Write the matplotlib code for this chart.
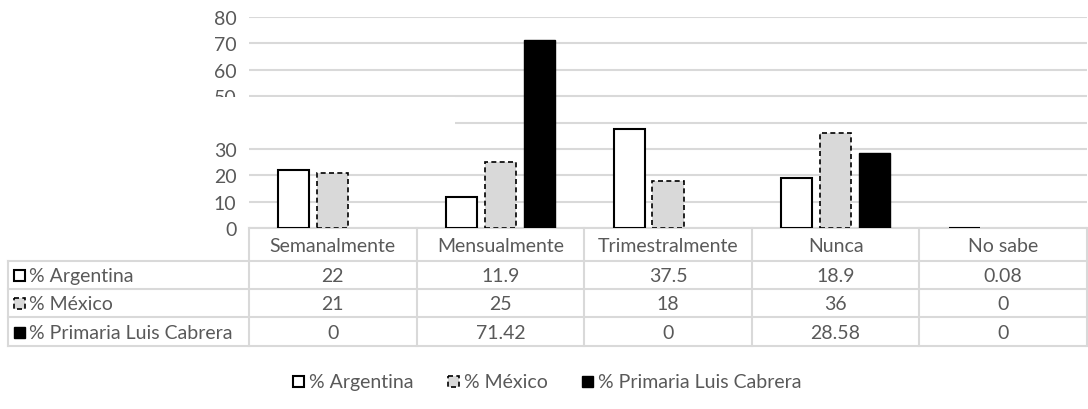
import numpy as np
import matplotlib.pyplot as plt
from matplotlib.patches import Rectangle

plt.rcParams['font.family'] = ['Lato', 'DejaVu Sans']

categorias = ['Semanalmente', 'Mensualmente', 'Trimestralmente', 'Nunca', 'No sabe']
series = ['% Argentina', '% México', '% Primaria Luis Cabrera']
argentina = [22, 11.9, 37.5, 18.9, 0.08]
mexico = [21, 25, 18, 36, 0]
cabrera = [0, 71.42, 0, 28.58, 0]
etiquetas = [['22', '11.9', '37.5', '18.9', '0.08'],
             ['21', '25', '18', '36', '0'],
             ['0', '71.42', '0', '28.58', '0']]

W, H = 1088, 410
gris = '#d9d9d9'
texto = '#595959'
fs = 14
estilos = [dict(facecolor='white', edgecolor='black', linewidth=1.5),
           dict(facecolor=gris, edgecolor='black', linewidth=1.2, linestyle=(0, (3, 2))),
           dict(facecolor='black', edgecolor='black', linewidth=1)]

fig = plt.figure(figsize=(W / 100, H / 100), dpi=100)

# capa para la tabla (debajo del grafico)
ov = fig.add_axes([0, 0, 1, 1])
ov.set_xlim(0, W)
ov.set_ylim(H, 0)
ov.axis('off')
ov.set_zorder(-1)

# zona del grafico (en pixeles)
x0, x1, y_top, y_bot = 249, 1087, 18, 229
ax = fig.add_axes([x0 / W, 1 - y_bot / H, (x1 - x0) / W, (y_bot - y_top) / H])
ax.patch.set_visible(False)
n = len(categorias)
pos = np.arange(n)
ancho = 0.185
paso = 0.232
for k, vals in enumerate([argentina, mexico, cabrera]):
    barras = ax.bar(pos + (k - 1) * paso, vals, ancho, zorder=3, **estilos[k])
    for b, v in zip(barras, vals):
        if v == 0:
            b.set_visible(False)
ax.set_xlim(-0.5, n - 0.5)
ax.set_ylim(0, 80)
ax.set_yticks(range(0, 81, 10))
ax.set_xticks([])
ax.grid(axis='y', color=gris, linewidth=1.5, zorder=0)
for s in ax.spines.values():
    s.set_visible(False)
ax.tick_params(axis='y', length=0, labelsize=fs, labelcolor=texto, pad=9)

# recuadro blanco que tapa parte del eje
fig.add_artist(Rectangle((200 / W, 1 - 140 / H), 255 / W, 42 / H, transform=fig.transFigure,
                         facecolor='white', edgecolor='none', zorder=10))

cw = (x1 - x0) / n
filas = [229, 262, 290, 318, 347]
lw = 1.5
# lineas horizontales
ov.plot([x0, x1], [filas[0], filas[0]], color=gris, lw=lw)
for yy in filas[1:]:
    ov.plot([8, x1], [yy, yy], color=gris, lw=lw)
# lineas verticales
for i in range(n + 1):
    xx = x0 + i * cw
    ov.plot([xx, xx], [filas[0], filas[-1]], color=gris, lw=lw)
ov.plot([8, 8], [filas[1], filas[-1]], color=gris, lw=lw)

for i, c in enumerate(categorias):
    ov.text(x0 + (i + 0.5) * cw, (filas[0] + filas[1]) / 2 + 1, c, ha='center', va='center',
            fontsize=fs, color=texto)
for r in range(3):
    yc = (filas[r + 1] + filas[r + 2]) / 2 + 1
    ov.add_patch(Rectangle((14, yc - 6), 11, 11, **estilos[r]))
    ov.text(29, yc, series[r], ha='left', va='center', fontsize=fs, color=texto)
    for i in range(n):
        ov.text(x0 + (i + 0.5) * cw, yc, etiquetas[r][i], ha='center', va='center',
                fontsize=fs, color=texto)

# leyenda
ley_x = [293, 448, 582]
for r in range(3):
    ov.add_patch(Rectangle((ley_x[r], 377), 11, 11, **estilos[r]))
    ov.text(ley_x[r] + 16, 382.5, series[r], ha='left', va='center', fontsize=fs, color=texto)

fig.savefig('out.png', dpi=100)
